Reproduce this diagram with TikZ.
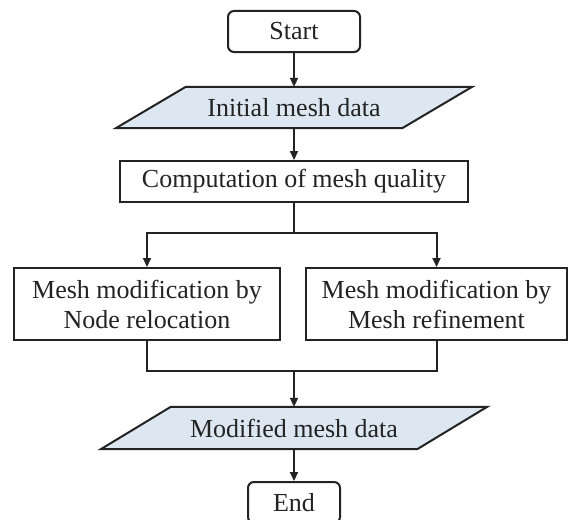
\documentclass[tikz,border=0pt]{standalone}
\usepackage{fontspec}
\setmainfont{Liberation Serif}
\usetikzlibrary{arrows.meta,backgrounds,calc}
\definecolor{inkc}{RGB}{35,35,35}
\definecolor{datafill}{RGB}{221,231,242}
\begin{document}
\begin{tikzpicture}[x=1pt,y=-1pt,
  font=\fontsize{26}{30}\selectfont,
  every node/.style={text=inkc},
  procbox/.style={draw=inkc, line width=2pt, fill=white, align=center, inner sep=0pt},
  termbox/.style={procbox, rounded corners=6pt},
  iobox/.style={inner sep=0pt, align=center},
  databg/.style={draw=inkc, fill=datafill, line width=2pt},
  flow/.style={draw=inkc, line width=2pt, -{Triangle[length=9pt,width=8pt]}},
  wire/.style={draw=inkc, line width=2pt}]
\path[use as bounding box] (0,0) rectangle (569,519);
\clip (0,0) rectangle (569,519);

% process steps
\node[termbox, minimum width=132pt, minimum height=41pt] (start) at (294,31.5) {Start};
\node[iobox, minimum width=286pt, minimum height=41pt] (init) at (294,107.5) {Initial mesh data};
\node[procbox, minimum width=348pt, minimum height=41pt] (comp) at (294,181.5) {Computation of mesh quality};
\node[procbox, minimum width=266pt, minimum height=72pt] (reloc) at (147,304) {Mesh modification by\\Node relocation};
\node[procbox, minimum width=261pt, minimum height=72pt] (refine) at (436.5,304) {Mesh modification by\\Mesh refinement};
\node[iobox, minimum width=316pt, minimum height=42pt] (modif) at (294,428) {Modified mesh data};
\node[termbox, minimum width=92pt, minimum height=41pt] (end) at (294,502.5) {End};

% data (parallelogram) outlines behind the text
\begin{scope}[on background layer]
  \foreach \n in {init,modif}
    \path[databg] ($(\n.south west)+(-35,0)$) -- ($(\n.south east)+(-35,0)$)
      -- ($(\n.north east)+(35,0)$) -- ($(\n.north west)+(35,0)$) -- cycle;
\end{scope}

% connectors
\coordinate (split) at (294,233);
\coordinate (merge) at (294,371);
\draw[flow] (start.south) -- (init.north);
\draw[flow] (init.south) -- (comp.north);
\draw[wire] (comp.south) -- (split);
\draw[flow] (split) -| (reloc.north);
\draw[flow] (split) -| (refine.north);
\draw[wire] (reloc.south) |- (merge);
\draw[wire] (refine.south) |- (merge);
\draw[flow] (merge) -- (modif.north);
\draw[flow] (modif.south) -- (end.north);
\end{tikzpicture}
\end{document}
